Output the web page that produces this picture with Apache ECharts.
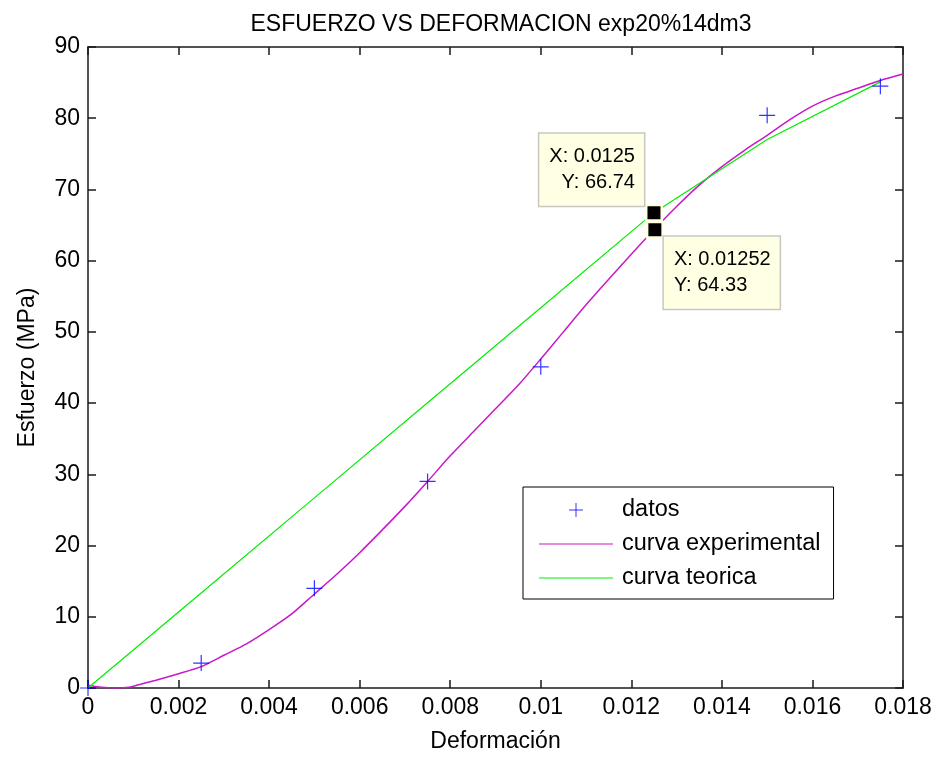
<!DOCTYPE html>
<html>
<head>
<meta charset="utf-8">
<script src="https://cdn.jsdelivr.net/npm/echarts@6/dist/echarts.min.js"></script>
<style>
html,body{margin:0;padding:0;background:#fff;}
#chart{width:941px;height:758px;}
</style>
</head>
<body>
<div id="chart"></div>
<script>
// ---- data ----
const titleText = 'ESFUERZO VS DEFORMACION exp20%14dm3';
const xName = 'Deformación';
const yName = 'Esfuerzo (MPa)';
const legendNames = ['datos', 'curva experimental', 'curva teorica'];

const datosX = [0, 0.0025, 0.005, 0.0075, 0.01, 0.0125, 0.015, 0.0175];
const datosY = [0, 3.5, 14.0, 29.0, 45.1, 66.74, 80.4, 84.5];

const teoricaX = [0, 0.0025, 0.005, 0.0075, 0.01, 0.0125, 0.015, 0.0175];
const teoricaY = [0, 13.35, 26.7, 40.04, 53.39, 66.74, 77.0, 85.1];

const expX = [0, 0.0003, 0.0006, 0.0009, 0.0012, 0.0015, 0.002, 0.0025, 0.003, 0.0035,
  0.004, 0.0045, 0.005, 0.0055, 0.006, 0.0065, 0.007, 0.0075, 0.008, 0.0085,
  0.009, 0.0095, 0.01, 0.0105, 0.011, 0.0115, 0.012, 0.0125, 0.013, 0.0135,
  0.014, 0.0145, 0.015, 0.0155, 0.016, 0.0165, 0.017, 0.0175, 0.018];
const expY = [0.4, 0.1, 0.0, 0.1, 0.6, 1.1, 2.0, 3.0, 4.6, 6.2,
  8.2, 10.4, 13.2, 16.0, 19.0, 22.2, 25.5, 29.0, 32.6, 35.9,
  39.2, 42.5, 46.2, 50.0, 53.8, 57.4, 60.9, 64.33, 67.6, 70.6,
  73.2, 75.5, 77.6, 79.8, 81.7, 83.1, 84.2, 85.3, 86.2];

const tipX = [0.0125, 0.01252];
const tipY = [66.74, 64.33];

// ---- chart ----
const FONT = 'Liberation Sans, Arial, sans-serif';
const FS = 23;
const zip = (a, b) => a.map((v, i) => [v, b[i]]);
const plusPath = 'path://M0,8L16,8M8,0L8,16';
const lineIcon = 'path://M0,0L74,0L74,1.2L0,1.2Z';
const EXP_COLOR = '#C818C8';
const TEO_COLOR = '#00EE00';

const chart = echarts.init(document.getElementById('chart'), null, {renderer: 'canvas'});

const axisLineStyle = {color: '#1a1a1a', width: 1.5};
const tipLabelCommon = {
  show: true,
  position: 'inside',
  fontFamily: FONT,
  fontSize: 20,
  lineHeight: 26,
  color: '#000',
  backgroundColor: '#FFFFE4',
  borderColor: '#C8C8C0',
  borderWidth: 1.5,
  padding: [10, 9, 10, 10],
  formatter: p => 'X: ' + p.value[0] + '\nY: ' + p.value[1]
};

const option = {
  backgroundColor: '#fff',
  animation: false,
  title: {
    text: titleText,
    left: 496,
    textAlign: 'center',
    top: 8,
    textStyle: {fontFamily: FONT, fontSize: FS, fontWeight: 'normal', color: '#000'}
  },
  grid: {left: 88, right: 38, top: 47, bottom: 67, containLabel: false},
  legend: {
    orient: 'vertical',
    left: 523,
    top: 487,
    padding: [11, 13, 9, 16],
    itemWidth: 74,
    itemHeight: 14,
    itemGap: 10,
    borderColor: '#000',
    borderWidth: 1,
    backgroundColor: '#fff',
    textStyle: {fontFamily: FONT, fontSize: 23.5, color: '#000', padding: [0, 0, 0, 4]},
    data: [
      {name: legendNames[0], icon: plusPath, itemStyle: {color: 'transparent', borderColor: '#0000FF', borderWidth: 1}},
      {name: legendNames[1], icon: lineIcon, itemStyle: {color: EXP_COLOR, borderWidth: 0}},
      {name: legendNames[2], icon: lineIcon, itemStyle: {color: TEO_COLOR, borderWidth: 0}}
    ]
  },
  xAxis: [
    {
      type: 'value', min: 0, max: 0.018, interval: 0.002, position: 'bottom',
      name: xName, nameLocation: 'middle', nameGap: 42,
      nameTextStyle: {fontFamily: FONT, fontSize: FS, color: '#000'},
      axisLine: {show: true, onZero: false, lineStyle: axisLineStyle},
      axisTick: {show: true, inside: true, length: 8, lineStyle: axisLineStyle},
      axisLabel: {fontFamily: FONT, fontSize: FS, color: '#000', margin: 8,
        formatter: v => String(+v.toFixed(4))},
      splitLine: {show: false}
    },
    {
      type: 'value', min: 0, max: 0.018, interval: 0.002, position: 'top',
      axisLine: {show: true, onZero: false, lineStyle: axisLineStyle},
      axisTick: {show: true, inside: true, length: 8, lineStyle: axisLineStyle},
      axisLabel: {show: false},
      splitLine: {show: false}
    }
  ],
  yAxis: [
    {
      type: 'value', min: 0, max: 90, interval: 10, position: 'left',
      name: yName, nameLocation: 'middle', nameGap: 49, nameRotate: 90,
      nameTextStyle: {fontFamily: FONT, fontSize: FS, color: '#000'},
      axisLine: {show: true, onZero: false, lineStyle: axisLineStyle},
      axisTick: {show: true, inside: true, length: 8, lineStyle: axisLineStyle},
      axisLabel: {fontFamily: FONT, fontSize: FS, color: '#000', margin: 8},
      splitLine: {show: false}
    },
    {
      type: 'value', min: 0, max: 90, interval: 10, position: 'right',
      axisLine: {show: true, onZero: false, lineStyle: axisLineStyle},
      axisTick: {show: true, inside: true, length: 8, lineStyle: axisLineStyle},
      axisLabel: {show: false},
      splitLine: {show: false}
    }
  ],
  series: [
    {
      name: legendNames[1], type: 'line', xAxisIndex: 0, yAxisIndex: 0,
      data: zip(expX, expY), symbol: 'none', smooth: 0.25,
      lineStyle: {color: EXP_COLOR, width: 1.5}, itemStyle: {color: EXP_COLOR}, z: 2
    },
    {
      name: legendNames[2], type: 'line', xAxisIndex: 0, yAxisIndex: 0,
      data: zip(teoricaX, teoricaY), symbol: 'none',
      lineStyle: {color: TEO_COLOR, width: 1.2}, itemStyle: {color: TEO_COLOR}, z: 2
    },
    {
      name: legendNames[0], type: 'scatter', xAxisIndex: 0, yAxisIndex: 0,
      data: zip(datosX, datosY), symbol: plusPath, symbolSize: 16,
      itemStyle: {color: 'transparent', borderColor: '#0000FF', borderWidth: 1.2}, z: 3
    },
    {
      name: 'datatips', type: 'scatter', xAxisIndex: 0, yAxisIndex: 0,
      symbol: 'rect', symbolSize: 15.5,
      itemStyle: {color: '#000', borderColor: '#FFFFE4', borderWidth: 2.5, opacity: 1},
      emphasis: {disabled: true},
      z: 5,
      data: [
        {value: [tipX[0], tipY[0]], label: Object.assign({}, tipLabelCommon, {align: 'right', verticalAlign: 'middle', offset: [-10, -43]})},
        {value: [tipX[1], tipY[1]], label: Object.assign({}, tipLabelCommon, {align: 'left', verticalAlign: 'middle', offset: [9, 43]})}
      ]
    }
  ]
};
chart.setOption(option);
</script>
</body>
</html>
